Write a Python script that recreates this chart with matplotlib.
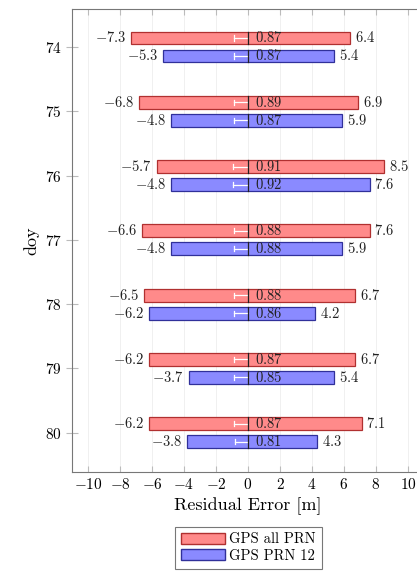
import numpy as np
import matplotlib.pyplot as plt
from matplotlib.patches import Patch

plt.rcParams['font.family'] = ['cmr10', 'DejaVu Serif']
plt.rcParams['mathtext.fontset'] = 'cm'
plt.rcParams['axes.formatter.use_mathtext'] = True

doy = [74, 75, 76, 77, 78, 79, 80]
all_min = [-7.3, -6.8, -5.7, -6.6, -6.5, -6.2, -6.2]
all_max = [6.4, 6.9, 8.5, 7.6, 6.7, 6.7, 7.1]
all_std = [0.87, 0.89, 0.91, 0.88, 0.88, 0.87, 0.87]
prn_min = [-5.3, -4.8, -4.8, -4.8, -6.2, -3.7, -3.8]
prn_max = [5.4, 5.9, 7.6, 5.9, 4.2, 5.4, 4.3]
prn_std = [0.87, 0.87, 0.92, 0.88, 0.86, 0.85, 0.81]

fig = plt.figure(figsize=(4.17, 5.76), dpi=100)
ax = fig.add_axes([72/417, 1-472/576, 352/417, 463/576])

series = [
    (all_min, all_max, all_std, -0.14, '#ff8a8a', '#b03030', 'GPS all PRN'),
    (prn_min, prn_max, prn_std, 0.14, '#8a8aff', '#30309a', 'GPS PRN 12'),
]
h = 0.2
for mins, maxs, stds, off, fc, ec, lab in series:
    y = np.array(doy) + off
    ax.barh(y, np.array(maxs) - np.array(mins), left=mins, height=h,
            color=fc, edgecolor=ec, linewidth=0.9, zorder=2)
    for yi, lo, hi, s in zip(y, mins, maxs, stds):
        ax.plot([0, 0], [yi - h/2, yi + h/2], color='#222222', lw=0.9, zorder=4)
        ax.plot([-s, 0], [yi, yi], color='white', lw=0.9, zorder=3)
        ax.plot([-s, -s], [yi - 0.04, yi + 0.04], color='white', lw=0.9, zorder=3)
        ax.text(0.45, yi, '$%.2f$' % s, va='center', ha='left', fontsize=10.5,
                color='#222222', zorder=5)
        ax.text(lo - 0.3, yi, '$%.1f$' % lo, va='center', ha='right', fontsize=10.5,
                color='#222222')
        ax.text(hi + 0.3, yi, '$%.1f$' % hi, va='center', ha='left', fontsize=10.5,
                color='#222222')

ax.set_xlim(-11, 11)
ax.set_ylim(80.61, 73.41)
ax.set_xticks(np.arange(-10, 11, 2))
ax.set_yticks(doy)
ax.grid(True, axis='x', color='#eeeeee', lw=0.6, zorder=0)
ax.tick_params(axis='x', direction='in', top=True, length=4, color='#bbbbbb',
               labelsize=11)
ax.tick_params(axis='y', direction='inout', length=8, color='#bbbbbb',
               labelsize=11)
for sp in ax.spines.values():
    sp.set_color('#777777')
ax.set_xlabel('Residual Error [m]', fontsize=13)
ax.set_ylabel('doy', fontsize=13)

handles = [Patch(facecolor='#ff8a8a', edgecolor='#b03030', label='GPS all PRN'),
           Patch(facecolor='#8a8aff', edgecolor='#30309a', label='GPS PRN 12')]
leg = fig.legend(handles=handles, loc='center', bbox_to_anchor=(0.596, 0.049),
                 fontsize=10.5, fancybox=False, edgecolor='#555555',
                 handlelength=3, handleheight=0.8, borderpad=0.4,
                 labelspacing=0.2, handletextpad=0.3)
leg.get_frame().set_linewidth(0.8)

plt.savefig('out.png', dpi=100)
